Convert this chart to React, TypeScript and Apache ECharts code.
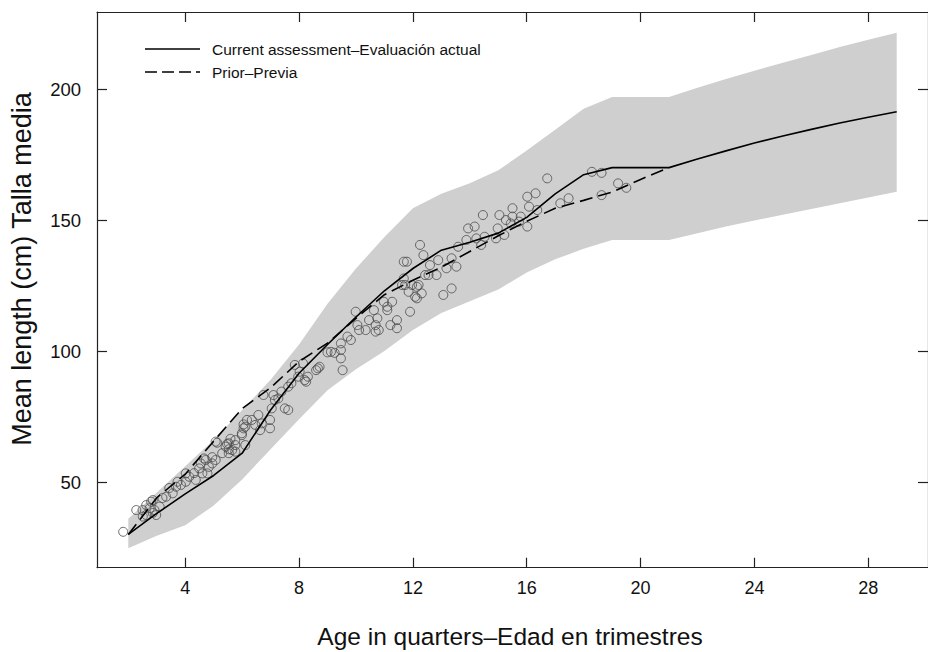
import React, { useEffect, useRef } from "react";
import * as echarts from "echarts";

// Observed mean length at age (quarters)
const obsAge = [
  1.82, 2.28, 2.5, 2.63, 2.8, 2.86, 2.75, 2.92, 2.63, 2.51, 2.98, 3.1, 3.2, 2.86, 3.33, 3.56, 3.44, 3.68, 3.85, 3.73,
  4.02, 4.14, 4.02, 4.37, 4.31, 4.49, 4.6, 4.55, 4.72, 4.83, 4.95, 4.78, 5.07, 5.07, 5.3, 5.42, 5.53, 5.65, 5.76, 5.53,
  5.76, 6.11, 5.99, 6.11, 6.46, 6.69, 4.66, 4.95, 5.12, 5.47, 5.59, 5.53, 5.76, 5.99, 6.05, 6.17, 6.05, 6.34, 6.57, 6.63,
  6.98, 6.98, 7.04, 7.15, 7.1, 7.27, 7.5, 7.62, 6.75, 7.38, 7.62, 7.73, 7.97, 8.02, 7.85, 8.14, 8.25, 8.31, 8.6, 8.72,
  9.12, 9.0, 9.25, 8.66, 8.2, 9.47, 9.47, 9.47, 9.53, 9.7, 9.82, 10.05, 9.99, 10.11, 10.34, 10.46, 10.63, 10.69, 10.75, 10.8,
  10.69, 10.98, 11.1, 11.27, 11.21, 11.44, 11.44, 11.68, 11.73, 11.85, 11.9, 11.68, 11.79, 11.97, 12.14, 12.14, 12.31, 12.25, 12.37, 12.43,
  11.62, 12.2, 12.08, 11.1, 12.6, 12.55, 12.83, 12.89, 13.18, 13.36, 13.53, 13.07, 13.36, 13.59, 13.88, 13.94, 14.17, 14.23, 14.46, 14.4,
  14.52, 14.92, 15.04, 14.98, 15.21, 15.27, 15.5, 15.5, 15.44, 15.73, 15.79, 16.02, 16.08, 16.02, 16.31, 16.37, 16.72, 17.18, 17.47, 18.29,
  18.63, 18.63, 19.21, 19.5
];
const obsLength = [
  31, 39.3, 39.3, 41.2, 42.5, 43.1, 40, 39.3, 37.4, 36.8, 37.4, 40.6, 43.9, 38.2, 44.4, 45.7, 47.7, 48.2, 48.9, 50.1,
  50.1, 52, 53.3, 50.8, 53.4, 55.2, 53.3, 57.1, 58.4, 55.8, 57.1, 53.3, 58.4, 65.4, 61, 63.5, 64.8, 62.2, 64.1, 61,
  66, 64.1, 68.6, 71.1, 71.8, 72.4, 59, 59.5, 65, 64.5, 66.5, 62.5, 61.6, 67.9, 70.5, 73.7, 72, 73.7, 75.6, 69.8,
  73.7, 70.5, 78.1, 81.3, 83.2, 81.9, 78.1, 77.5, 83.2, 84.5, 86.4, 87.7, 90.2, 92.1, 94.7, 95.3, 88.3, 90.2, 92.7, 94,
  99.7, 99.5, 99.3, 93.4, 88.9, 102.9, 100.4, 97.2, 92.7, 105.5, 104.2, 109.9, 115, 108, 108, 111.8, 115.6, 109.9, 112.5, 108,
  107.4, 118.8, 115.6, 118.8, 109.9, 108.7, 111.8, 127.7, 125.2, 122.6, 115, 134.1, 134.1, 125.2, 124.5, 120.1, 122, 140.5, 136.6, 129,
  125.2, 125.2, 120.7, 116.9, 132.8, 129, 129, 134.7, 131.6, 135.4, 132.2, 121.4, 123.9, 139.8, 142.4, 146.8, 147.5, 143, 151.9, 140.5,
  143.6, 143, 151.9, 146.8, 144.3, 150, 154.5, 151.3, 148.7, 149.4, 151.3, 147.5, 155.1, 158.9, 160.2, 153.8, 165.9, 156.4, 158.3, 168.4,
  168, 159.5, 164, 162.3
];

// Growth curves
const curveAge = [2, 3, 4, 5, 6, 7, 8, 9, 10, 11, 12, 13, 14, 15, 16, 17, 18, 19, 20, 21, 22, 23, 24, 25, 26, 27, 28, 29];
const currentLength = [30, 38, 45.5, 52.5, 61, 77.5, 91.5, 102.5, 113, 123, 131.5, 138.5, 141.5, 145, 151, 160, 167.3, 170, 170, 170, 173.3, 176.4, 179.4, 182.1, 184.6, 187, 189.2, 191.3];
const priorAge = [2, 3, 4, 5, 6, 7, 8, 9, 10, 11, 12, 13, 14, 15, 16, 17, 18, 19, 20, 21];
const priorLength = [30, 44, 53, 65.6, 78, 86, 96, 103, 112.5, 121.5, 127, 132, 138, 144, 149.5, 154.5, 157.5, 160.7, 165.5, 170];
const bandUpper = [36, 46, 56, 66, 77.5, 89, 102.5, 118, 131.5, 143.5, 154.5, 160, 164, 169, 176.5, 184.5, 192.5, 197, 197, 197, 200.5, 203.8, 207, 210, 213, 216, 218.8, 221.5];
const bandLower = [24.7, 29.5, 33.5, 41, 51, 62.5, 74, 85, 93, 100, 108, 114.5, 119, 123.5, 130, 135, 139, 142.4, 142.4, 142.4, 145, 147.5, 149.8, 152, 154.2, 156.4, 158.6, 160.8];

const xTicks = [4, 8, 12, 16, 20, 24, 28];
const yTicks = [50, 100, 150, 200];

const FONT = "'Liberation Sans', Arial, sans-serif";

export default function App() {
  const ref = useRef<HTMLDivElement>(null);
  useEffect(() => {
    if (!ref.current) return;
    const chart = echarts.init(ref.current, null, { renderer: "svg" });
    const axisColor = "#222";
    const tickCommon = { inside: true, length: 10, lineStyle: { color: axisColor, width: 1.2 } };
    const lineCommon = { show: true, lineStyle: { color: axisColor, width: 1.2 } };
    const scatterData = obsAge.map((a, i) => [a, obsLength[i]]);
    chart.setOption({
      animation: false,
      backgroundColor: "#fff",
      grid: { left: 97, top: 12, width: 839, height: 555.7, containLabel: false },
      xAxis: [
        {
          type: "value", position: "bottom", min: 0.9, max: 30.1,
          axisLine: lineCommon,
          axisTick: { ...tickCommon, customValues: xTicks },
          axisLabel: { customValues: xTicks, margin: 11, fontSize: 18, color: "#111", fontFamily: FONT },
          splitLine: { show: false },
        },
        {
          type: "value", position: "top", min: 0.9, max: 30.1,
          axisLine: lineCommon,
          axisTick: { ...tickCommon, customValues: xTicks },
          axisLabel: { show: false },
          splitLine: { show: false },
        },
      ],
      yAxis: [
        {
          type: "value", position: "left", min: 17.3, max: 229.4,
          axisLine: lineCommon,
          axisTick: { ...tickCommon, customValues: yTicks },
          axisLabel: { customValues: yTicks, margin: 16, fontSize: 18.5, color: "#111", fontFamily: FONT },
          splitLine: { show: false },
        },
        {
          type: "value", position: "right", min: 17.3, max: 229.4,
          axisLine: lineCommon,
          axisTick: { ...tickCommon, customValues: yTicks },
          axisLabel: { show: false },
          splitLine: { show: false },
        },
      ],
      series: [
        {
          type: "custom",
          coordinateSystem: "cartesian2d",
          z: 1,
          silent: true,
          data: [[curveAge[0], bandLower[0]]],
          renderItem: (_params: any, api: any) => {
            const pts: number[][] = [];
            for (let i = 0; i < curveAge.length; i++) pts.push(api.coord([curveAge[i], bandUpper[i]]));
            for (let i = curveAge.length - 1; i >= 0; i--) pts.push(api.coord([curveAge[i], bandLower[i]]));
            return { type: "polygon", shape: { points: pts }, style: { fill: "#cfcfcf", stroke: "none" } };
          },
        },
        {
          type: "scatter",
          z: 3,
          data: scatterData,
          symbol: "circle",
          symbolSize: 9,
          itemStyle: { color: "rgba(0,0,0,0)", borderColor: "#4a4a4a", borderWidth: 1 },
        },
        {
          type: "line",
          z: 4,
          data: curveAge.map((a, i) => [a, currentLength[i]]),
          showSymbol: false,
          lineStyle: { color: "#000", width: 1.6 },
        },
        {
          type: "line",
          z: 4,
          data: priorAge.map((a, i) => [a, priorLength[i]]),
          showSymbol: false,
          lineStyle: { color: "#000", width: 1.6, type: [13, 6] },
        },
      ],
      graphic: [
        { type: "line", shape: { x1: 145, y1: 49, x2: 200, y2: 49 }, style: { stroke: "#000", lineWidth: 1.5 } },
        { type: "line", shape: { x1: 145, y1: 72, x2: 200, y2: 72 }, style: { stroke: "#000", lineWidth: 1.5, lineDash: [12, 5] } },
        { type: "text", x: 212, y: 49, style: { text: "Current assessment–Evaluación actual", font: `15.5px ${FONT}`, fill: "#111", textVerticalAlign: "middle" } },
        { type: "text", x: 212, y: 72, style: { text: "Prior–Previa", font: `15.5px ${FONT}`, fill: "#111", textVerticalAlign: "middle" } },
        {
          type: "text", x: 22, y: 269, rotation: Math.PI / 2,
          style: { text: "Mean length (cm) Talla media", font: `27px ${FONT}`, fill: "#111", textAlign: "center", textVerticalAlign: "middle" },
        },
        {
          type: "text", x: 510, y: 636,
          style: { text: "Age in quarters–Edad en trimestres", font: `24.5px ${FONT}`, fill: "#111", textAlign: "center", textVerticalAlign: "middle" },
        },
      ],
    });
    return () => chart.dispose();
  }, []);
  return (
    <div style={{ position: "fixed", left: 0, top: 0, width: 928, height: 652, overflow: "hidden", background: "#fff" }}>
      <div ref={ref} style={{ width: 928, height: 652 }} />
    </div>
  );
}
